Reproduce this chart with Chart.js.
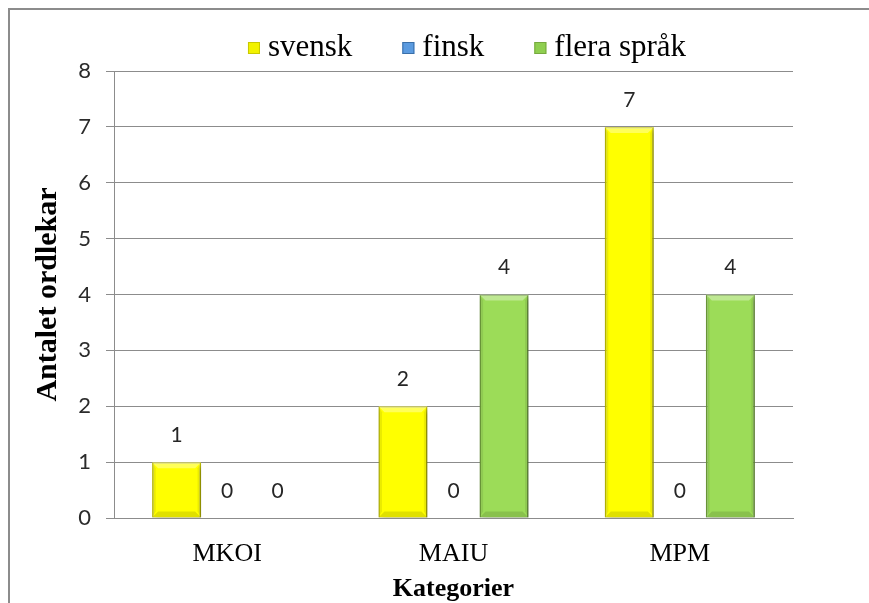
<!DOCTYPE html>
<html>
<head>
<meta charset="utf-8">
<script src="https://cdn.jsdelivr.net/npm/chart.js@4/dist/chart.umd.min.js"></script>
<style>
html,body{margin:0;padding:0;background:#fff;}
#wrap{width:869px;height:603px;position:relative;}
</style>
</head>
<body>
<div id="wrap"><canvas id="c" width="869" height="603"></canvas></div>
<script>
const categories = ['MKOI', 'MAIU', 'MPM'];
const seriesNames = ['svensk', 'finsk', 'flera språk'];
const svensk = [1, 2, 7];
const finsk = [0, 0, 0];
const flera = [0, 4, 4];
const yTicks = [0, 1, 2, 3, 4, 5, 6, 7, 8];

const SERIF = '"Liberation Serif", "Times New Roman", serif';
const SANS = 'Lato, "Open Sans", sans-serif';

const framePlugin = {
  id: 'frame',
  beforeDraw(chart) {
    const ctx = chart.ctx;
    ctx.save();
    ctx.fillStyle = '#ffffff';
    ctx.fillRect(0, 0, chart.width, chart.height);
    ctx.strokeStyle = '#8c8c8c';
    ctx.lineWidth = 2;
    ctx.beginPath();
    ctx.moveTo(9, chart.height);
    ctx.lineTo(9, 9);
    ctx.lineTo(chart.width, 9);
    ctx.stroke();
    ctx.restore();
  }
};

const shadowPlugin = {
  id: 'barShadow',
  beforeDatasetsDraw(chart) {
    const ctx = chart.ctx;
    ctx.save();
    ctx.shadowColor = 'rgba(0,0,0,0.35)';
    ctx.shadowBlur = 5;
    ctx.shadowOffsetX = 2;
    ctx.shadowOffsetY = 3;
  },
  afterDatasetsDraw(chart) {
    chart.ctx.restore();
  }
};

const bevelPlugin = {
  id: 'bevel',
  afterDatasetsDraw(chart) {
    const ctx = chart.ctx;
    ctx.save();
    chart.data.datasets.forEach((ds, i) => {
      const meta = chart.getDatasetMeta(i);
      meta.data.forEach((el) => {
        const h = el.base - el.y;
        if (h < 2) return;
        const l = el.x - el.width / 2, r = el.x + el.width / 2, t = el.y, b = el.base;
        const d = Math.min(6, h / 3);
        ctx.fillStyle = 'rgba(255,255,255,0.35)';
        ctx.beginPath();
        ctx.moveTo(l, t); ctx.lineTo(r, t); ctx.lineTo(r - d, t + d); ctx.lineTo(l + d, t + d); ctx.closePath(); ctx.fill();
        ctx.fillStyle = 'rgba(0,0,0,0.08)';
        ctx.beginPath();
        ctx.moveTo(l, t); ctx.lineTo(l + d * 0.6, t + d); ctx.lineTo(l + d * 0.6, b - d); ctx.lineTo(l, b); ctx.closePath(); ctx.fill();
        ctx.beginPath();
        ctx.moveTo(r, t); ctx.lineTo(r - d * 0.6, t + d); ctx.lineTo(r - d * 0.6, b - d); ctx.lineTo(r, b); ctx.closePath(); ctx.fill();
        ctx.fillStyle = 'rgba(0,0,0,0.12)';
        ctx.beginPath();
        ctx.moveTo(l, b); ctx.lineTo(r, b); ctx.lineTo(r - d, b - d); ctx.lineTo(l + d, b - d); ctx.closePath(); ctx.fill();
      });
    });
    ctx.restore();
  }
};

const labelPlugin = {
  id: 'valueLabels',
  afterDatasetsDraw(chart) {
    const ctx = chart.ctx;
    ctx.save();
    ctx.font = Chart.helpers.toFont({ family: SANS, size: 21 }).string;
    ctx.fillStyle = '#262626';
    ctx.textAlign = 'center';
    ctx.textBaseline = 'middle';
    chart.data.datasets.forEach((ds, i) => {
      const meta = chart.getDatasetMeta(i);
      meta.data.forEach((el, j) => {
        ctx.fillText(String(ds.data[j]), el.x, el.y - 27);
      });
    });
    ctx.restore();
  }
};

const legendPlugin = {
  id: 'customLegend',
  afterDraw(chart) {
    const ctx = chart.ctx;
    ctx.save();
    ctx.font = Chart.helpers.toFont({ family: 'Liberation Serif', size: 31 }).string;
    ctx.textBaseline = 'middle';
    ctx.textAlign = 'left';
    const box = 12, gap = 8, itemGap = 50;
    const ds = chart.data.datasets;
    let total = 0;
    const widths = ds.map(d => ctx.measureText(d.label).width);
    widths.forEach((w, i) => { total += box + gap + w + (i < widths.length - 1 ? itemGap : 0); });
    let x = 467 - total / 2;
    const y = 48;
    ds.forEach((d, i) => {
      ctx.fillStyle = d.legendColor;
      ctx.fillRect(x, y - box / 2, box, box);
      ctx.strokeStyle = d.borderColor;
      ctx.lineWidth = 1;
      ctx.strokeRect(x + 0.5, y - box / 2 + 0.5, box - 1, box - 1);
      ctx.fillStyle = '#000000';
      ctx.fillText(d.label, x + box + gap, y);
      x += box + gap + widths[i] + itemGap;
    });
    ctx.restore();
  }
};

new Chart(document.getElementById('c'), {
  type: 'bar',
  data: {
    labels: categories,
    datasets: [
      { label: seriesNames[0], data: svensk, backgroundColor: '#ffff00', borderColor: '#c9c900', legendColor: '#f2f200', borderWidth: 1.5 },
      { label: seriesNames[1], data: finsk, backgroundColor: '#4f8fd6', borderColor: '#3a6fa8', legendColor: '#5b9be0', borderWidth: 1.5 },
      { label: seriesNames[2], data: flera, backgroundColor: '#9cdc58', borderColor: '#76a83f', legendColor: '#8fcf50', borderWidth: 1.5 }
    ]
  },
  options: {
    responsive: false,
    animation: false,
    devicePixelRatio: 1,
    layout: { padding: { top: 71, right: 76, left: 0, bottom: 0 } },
    datasets: { bar: { categoryPercentage: 0.67, barPercentage: 0.97 } },
    plugins: {
      legend: { display: false },
      tooltip: { enabled: false }
    },
    scales: {
      x: {
        grid: { display: false, drawTicks: false },
        border: { display: true, color: '#8c8c8c' },
        ticks: { font: { family: SERIF, size: 26 }, color: '#000000', padding: 21 },
        title: { display: true, text: 'Kategorier', font: { family: SERIF, size: 26, weight: 'bold' }, color: '#000000', padding: { top: 0, bottom: -2 } },
        afterFit(scale) { scale.height = 85; }
      },
      y: {
        min: 0,
        max: 8,
        afterBuildTicks(scale) { scale.ticks = yTicks.map(v => ({ value: v })); },
        grid: { color: '#8c8c8c', lineWidth: 1, tickLength: 8, drawTicks: true },
        border: { display: true, color: '#8c8c8c' },
        ticks: { font: { family: SANS, size: 22 }, color: '#2b2b2b', padding: 15 },
        title: { display: true, text: 'Antalet ordlekar', font: { family: SERIF, size: 30, weight: 'bold' }, color: '#000000', padding: { top: 30, bottom: 0 } },
        afterFit(scale) { scale.width = 114; }
      }
    }
  },
  plugins: [framePlugin, shadowPlugin, bevelPlugin, labelPlugin, legendPlugin]
});
</script>
</body>
</html>
